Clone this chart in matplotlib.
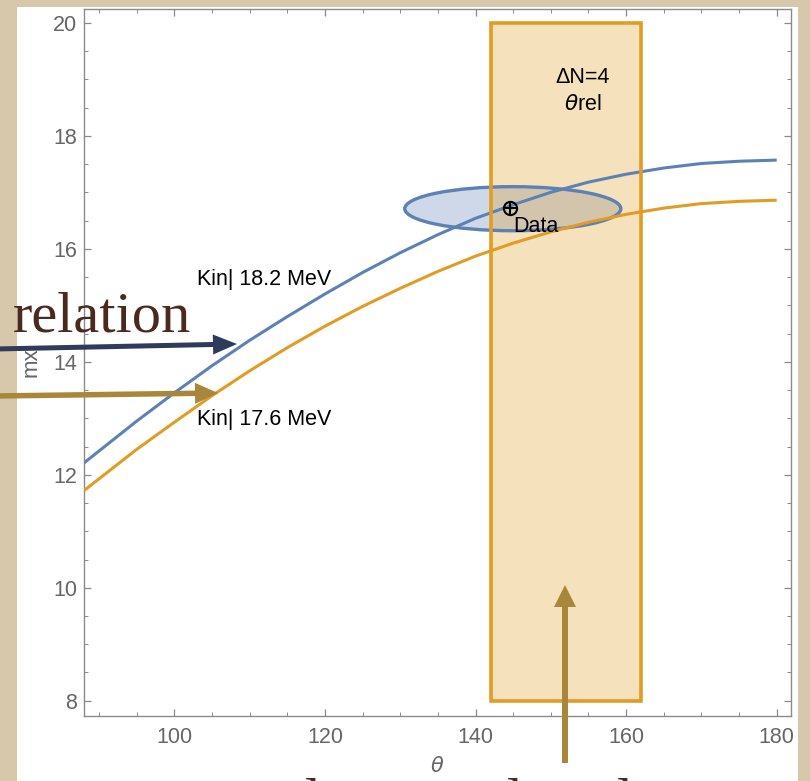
import matplotlib
matplotlib.use("Agg")
import matplotlib.pyplot as plt
import numpy as np
from matplotlib.patches import Rectangle, Ellipse, FancyArrow
from matplotlib.ticker import MultipleLocator
from matplotlib.transforms import IdentityTransform

plt.rcParams['font.family'] = ['Liberation Sans', 'DejaVu Sans']

# ---------------- data ----------------
theta = [88, 95, 100, 105, 110, 115, 120, 125, 130, 135, 140, 145, 150, 155, 160, 165, 170, 175, 180]
mx_182 = [12.21, 12.95, 13.45, 13.93, 14.38, 14.80, 15.20, 15.58, 15.93, 16.25, 16.54, 16.78, 17.00, 17.18, 17.32, 17.43, 17.51, 17.55, 17.57]
mx_176 = [11.72, 12.45, 12.93, 13.40, 13.84, 14.25, 14.63, 14.98, 15.30, 15.60, 15.87, 16.10, 16.30, 16.47, 16.61, 16.72, 16.80, 16.84, 16.86]
curve_labels = ["Kin| 18.2 MeV", "Kin| 17.6 MeV"]

band_theta = [142, 162]      # theta_rel band
band_mx = [8, 20]
band_label = ["\u0394N=4", "$\\theta$rel"]

data_theta = 144.6
data_mx = 16.73
ell_center = (144.95, 16.71)
ell_width = 28.7
ell_height = 0.78

xticks = [100, 120, 140, 160, 180]
yticks = [8, 10, 12, 14, 16, 18, 20]

BLUE = '#5e81b5'
ORANGE = '#e19c24'
PARCH = '#d7c7ab'
NAVY = '#2f3b5b'
GOLD = '#a8873a'
BROWN = '#4a2a1f'

W, H = 810, 781
fig = plt.figure(figsize=(W / 100, H / 100), dpi=100)
fig.patch.set_facecolor(PARCH)

# white slide panel
fig.add_artist(Rectangle((17 / W, 0), (798 - 17) / W, 1 - 7 / H, transform=fig.transFigure,
                         facecolor='white', edgecolor='none', zorder=0))

ax = fig.add_axes([84 / W, 1 - 716 / H, (791 - 84) / W, (716 - 8.7) / H])
ax.set_facecolor('white')
ax.set_xlim(88, 181.9)
ax.set_ylim(7.73, 20.25)

# ellipse (data uncertainty)
ax.add_patch(Ellipse(ell_center, ell_width, ell_height, facecolor=BLUE, alpha=0.3,
                     edgecolor='none', zorder=2))
ax.add_patch(Ellipse(ell_center, ell_width, ell_height, facecolor='none',
                     edgecolor=BLUE, lw=2.4, zorder=4))

# band
ax.add_patch(Rectangle((band_theta[0], band_mx[0]), band_theta[1] - band_theta[0],
                       band_mx[1] - band_mx[0], facecolor=ORANGE, alpha=0.3,
                       edgecolor='none', zorder=3))
ax.add_patch(Rectangle((band_theta[0], band_mx[0]), band_theta[1] - band_theta[0],
                       band_mx[1] - band_mx[0], facecolor='none',
                       edgecolor=ORANGE, lw=2.6, zorder=5))

# curves
ax.plot(theta, mx_182, color=BLUE, lw=2.2, zorder=4, solid_capstyle='butt')
ax.plot(theta, mx_176, color=ORANGE, lw=2.2, zorder=4, solid_capstyle='butt')

# data point
ax.plot([data_theta], [data_mx], marker='o', ms=9.5, mfc='none', mec='black', mew=1.5, zorder=7)
ax.plot([data_theta], [data_mx], marker='+', ms=9.5, mec='black', mew=1.5, zorder=7)
ax.text(data_theta + 0.4, data_mx - 0.33, "Data", fontsize=15.5, ha='left', va='center', zorder=8)

# text labels
ax.text(103.0, 15.45, curve_labels[0], fontsize=15.5, ha='left', va='center', zorder=8)
ax.text(103.0, 12.97, curve_labels[1], fontsize=15.5, ha='left', va='center', zorder=8)
ax.text(154.2, 19.04, band_label[0], fontsize=15.5, ha='center', va='center', zorder=8)
ax.text(154.2, 18.55, band_label[1], fontsize=15.5, ha='center', va='center', zorder=8)

# axes styling
ax.set_xticks(xticks)
ax.set_yticks(yticks)
ax.xaxis.set_minor_locator(MultipleLocator(5))
ax.yaxis.set_minor_locator(MultipleLocator(0.5))
ax.tick_params(which='both', direction='in', top=True, right=True, color='#8a8a8a',
               labelsize=15.5, labelcolor='#666666')
ax.tick_params(which='major', length=5, width=0.9)
ax.tick_params(which='minor', length=3, width=0.7)
ax.tick_params(axis='x', pad=8)
ax.tick_params(axis='y', pad=5)
for s in ax.spines.values():
    s.set_color('#8a8a8a')
    s.set_linewidth(1.0)
ax.set_xlabel("$\\theta$", fontsize=15, color='#666666', labelpad=6)
ax.set_ylabel("mx", fontsize=16, color='#666666', labelpad=8)

# overlay arrows (figure pixels)
ident = IdentityTransform()
def arrow(x0, y0, x1, y1, w, hw, hl, color):
    fig.add_artist(FancyArrow(x0, H - y0, x1 - x0, -(y1 - y0), width=w, head_width=hw,
                              head_length=hl, length_includes_head=True, color=color,
                              transform=ident, zorder=20, lw=0))

arrow(-5, 349, 237, 344, 5, 20, 24, NAVY)
arrow(-5, 396, 218, 393, 5.5, 21, 23, GOLD)
arrow(565, 763, 565, 585, 6, 22, 22, GOLD)

# slide text
fig.text(13, H - 331, "relation", fontsize=42, family='Liberation Serif', color=BROWN,
         ha='left', va='baseline', transform=ident, zorder=21)
for xx in [313, 515, 625]:
    fig.text(xx, H - 818, "l", fontsize=42, family='Liberation Serif', color=BROWN,
             ha='center', va='baseline', transform=ident, zorder=21)

fig.savefig("out.png", dpi=100, facecolor=fig.get_facecolor())
